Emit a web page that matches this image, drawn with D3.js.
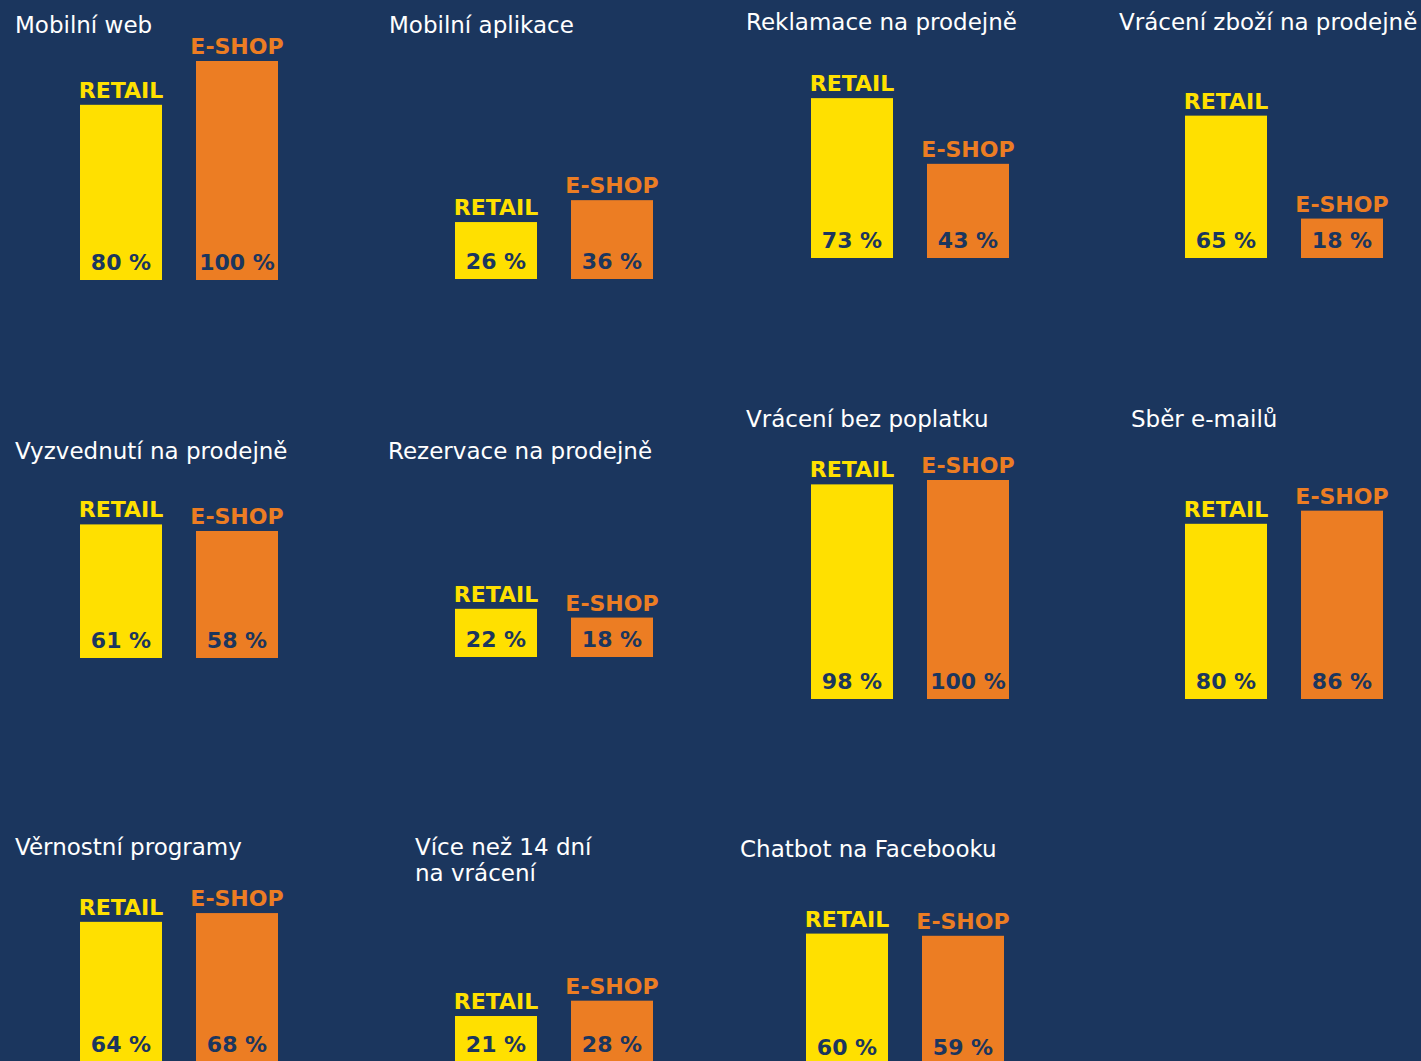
<!DOCTYPE html>
<html>
	<head>
		<meta charset="utf-8">
		<title>Retail vs E-shop</title>
		<script src="https://d3js.org/d3.v7.min.js" charset="utf-8"></script>
		<style>
			body {
				margin: 0;
				background: #1b365e;
			}
			.title {
				fill: #ffffff;
				font-family: "DejaVu Sans", sans-serif;
				font-size: 23px;
			}
			.label, .value {
				font-family: "DejaVu Sans", sans-serif;
				font-weight: bold;
				font-size: 22px;
			}
		</style>
	</head>
	<body>
		<script>
		// data
		var titles = [
			["Mobilní web"], ["Mobilní aplikace"], ["Reklamace na prodejně"], ["Vrácení zboží na prodejně"],
			["Vyzvednutí na prodejně"], ["Rezervace na prodejně"], ["Vrácení bez poplatku"], ["Sběr e-mailů"],
			["Věrnostní programy"], ["Více než 14 dní", "na vrácení"], ["Chatbot na Facebooku"]
		];
		var retail = [80, 26, 73, 65, 61, 22, 98, 80, 64, 21, 60];
		var eshop = [100, 36, 43, 18, 58, 18, 100, 86, 68, 28, 59];
		var seriesNames = ["RETAIL", "E-SHOP"];

		// layout of each panel: bar left, baseline, title x, title baseline
		var layout = [
			{x: 80, base: 280, tx: 15, ty: 33},
			{x: 455, base: 279, tx: 389, ty: 33},
			{x: 811, base: 258, tx: 746, ty: 30},
			{x: 1185, base: 258, tx: 1119, ty: 30},
			{x: 80, base: 658, tx: 15, ty: 459},
			{x: 455, base: 657, tx: 388, ty: 459},
			{x: 811, base: 699, tx: 746, ty: 427},
			{x: 1185, base: 699, tx: 1131, ty: 427},
			{x: 80, base: 1062, tx: 15, ty: 855},
			{x: 455, base: 1062, tx: 415, ty: 855},
			{x: 806, base: 1065, tx: 740, ty: 857}
		];

		var width = 1421;
		var height = 1061;
		var colors = ["#ffe000", "#ec7d23"];
		var valueColor = "#1b365e";

		var svg = d3.select("body")
			.append("svg")
			.attr("width", width)
			.attr("height", height);

		svg.append("rect")
			.attr("width", width)
			.attr("height", height)
			.attr("fill", "#1b365e");

		// 100 % = 219 px
		var h = d3.scaleLinear().domain([0, 100]).range([0, 219]);
		// bars 82 px wide, 116 px apart
		var x = d3.scaleBand().domain(seriesNames).range([0, 198]).paddingInner(0.293).paddingOuter(0);

		var panels = svg.selectAll("g.panel")
			.data(titles.map(function(t, i) {
				return {title: t, values: [retail[i], eshop[i]], pos: layout[i]};
			}))
			.enter()
			.append("g")
			.attr("class", "panel");

		panels.append("text")
			.attr("class", "title")
			.attr("x", function(d){ return d.pos.tx; })
			.attr("y", function(d){ return d.pos.ty; })
			.selectAll("tspan")
			.data(function(d){ return d.title.map(function(t){ return {t: t, x: d.pos.tx}; }); })
			.enter()
			.append("tspan")
			.attr("x", function(d){ return d.x; })
			.attr("dy", function(d, i){ return i ? 26 : 0; })
			.text(function(d){ return d.t; });

		var bars = panels.append("g")
			.attr("transform", function(d){ return "translate(" + d.pos.x + "," + d.pos.base + ")"; })
			.selectAll("g.bar")
			.data(function(d){ return d.values.map(function(v, i){ return {name: seriesNames[i], v: v, c: colors[i]}; }); })
			.enter()
			.append("g")
			.attr("class", "bar");

		bars.append("rect")
			.attr("x", function(d){ return x(d.name); })
			.attr("y", function(d){ return -h(d.v); })
			.attr("width", x.bandwidth())
			.attr("height", function(d){ return h(d.v); })
			.attr("fill", function(d){ return d.c; });

		bars.append("text")
			.attr("class", "label")
			.attr("x", function(d){ return x(d.name) + x.bandwidth() / 2; })
			.attr("y", function(d){ return -h(d.v) - 7; })
			.attr("text-anchor", "middle")
			.attr("fill", function(d){ return d.c; })
			.text(function(d){ return d.name; });

		bars.append("text")
			.attr("class", "value")
			.attr("x", function(d){ return x(d.name) + x.bandwidth() / 2; })
			.attr("y", -10)
			.attr("text-anchor", "middle")
			.attr("fill", valueColor)
			.text(function(d){ return d.v + " %"; });

		</script>
	</body>
</html>
